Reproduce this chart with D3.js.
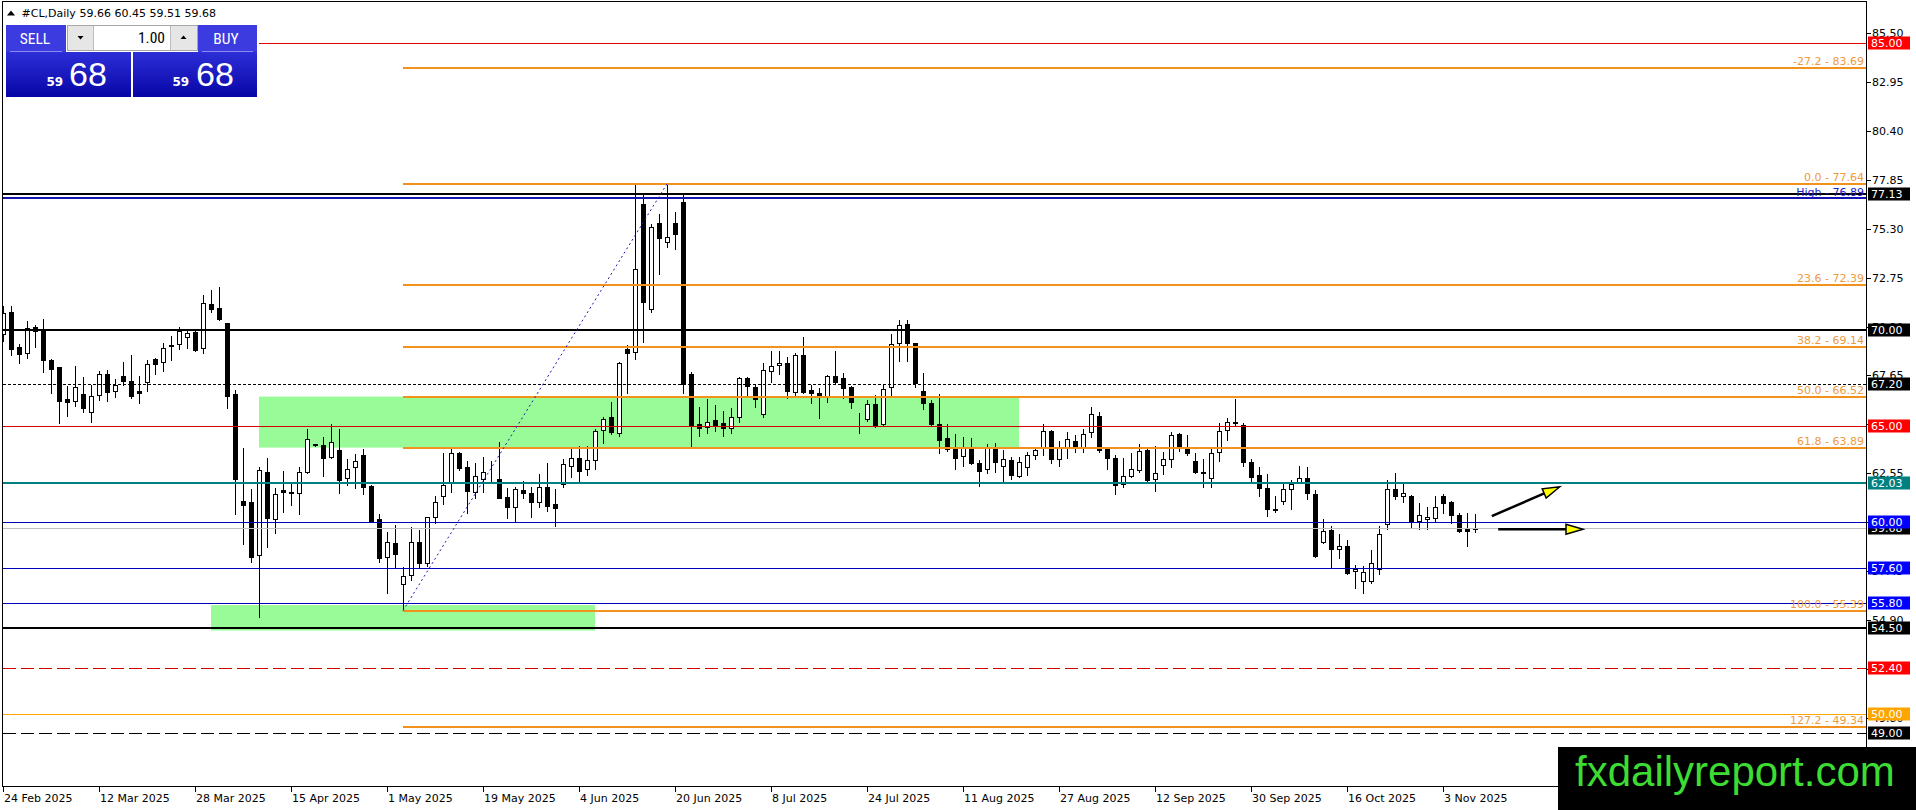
<!DOCTYPE html>
<html><head><meta charset="utf-8">
<script src="https://cdn.jsdelivr.net/npm/d3@7"></script>
<style>html,body{margin:0;padding:0;background:#fff;overflow:hidden}</style>
</head><body>
<svg id="c" width="1916" height="810" xmlns="http://www.w3.org/2000/svg"></svg>
<script>
// ---------------- DATA ----------------
const symbolTitle = "#CL,Daily";
const titleOHLC = "59.66 60.45 59.51 59.68";
const opens = [69.79,70.94,69.12,68.80,70.16,70.06,68.47,68.07,66.41,66.30,
66.67,65.73,66.61,67.71,66.82,67.61,67.36,66.84,67.29,68.51,
68.34,69.22,69.27,69.67,69.90,69.10,71.38,71.15,70.37,66.68,
61.11,61.04,58.31,62.62,60.15,61.68,61.59,61.50,62.60,64.06,
64.02,63.42,63.76,62.29,62.86,63.50,61.89,60.17,58.17,58.91,
56.76,57.23,58.95,57.89,60.25,61.37,62.03,63.59,62.86,61.56,
62.23,62.62,62.23,61.30,60.77,61.68,61.50,61.03,61.82,60.93,
61.97,62.95,63.33,62.76,63.24,64.79,65.47,64.63,69.03,68.89,
76.57,71.10,75.58,74.59,75.58,76.71,67.71,65.10,64.98,65.33,
65.16,64.89,65.50,67.50,67.07,65.62,67.90,68.19,68.28,66.81,
68.72,66.89,66.72,66.55,67.62,67.50,67.03,65.45,65.36,66.14,
65.12,67.03,69.33,70.32,69.33,66.84,66.20,65.10,64.37,63.80,
63.45,63.94,63.07,62.76,63.85,62.95,63.24,62.43,62.86,63.50,
63.90,64.76,63.28,63.90,64.25,63.94,64.69,65.55,63.80,63.33,
61.99,62.41,62.72,63.76,62.23,62.98,63.29,64.58,63.94,63.21,
62.62,62.29,63.64,64.81,65.22,65.07,63.16,62.46,61.77,60.62,
61.12,61.71,62.11,62.29,61.45,58.99,59.59,58.59,58.76,57.47,
56.95,56.95,57.54,59.89,61.71,61.37,61.37,60.08,60.15,60.20,
61.38,61.07,60.38,59.68,59.66];
const highs = [71.25,71.27,69.29,70.49,70.28,70.59,68.53,68.11,67.10,68.16,
67.59,67.15,67.88,67.93,67.45,68.33,68.70,67.62,68.47,68.58,
69.33,69.73,70.19,69.97,69.97,71.85,72.11,72.25,70.40,66.89,
63.85,61.71,62.89,63.33,61.80,62.67,62.03,62.89,64.86,64.10,
64.46,65.12,64.86,63.28,63.54,63.80,61.92,60.41,59.47,59.85,
57.68,59.77,59.59,60.29,61.38,63.59,63.80,63.64,63.21,63.07,
63.42,63.19,64.20,61.77,61.85,62.15,61.85,62.49,63.10,61.73,
63.29,63.80,63.97,63.97,64.86,65.50,66.25,68.34,69.24,77.62,
77.11,75.55,76.05,77.64,76.16,77.11,67.85,66.02,66.42,66.11,
65.81,65.94,67.59,67.59,67.15,68.32,68.93,68.93,68.63,68.80,
69.67,67.15,66.98,67.67,68.93,67.76,67.10,65.71,66.37,66.63,
67.15,69.80,70.55,70.55,69.36,67.76,66.37,66.67,65.10,64.58,
64.42,64.37,63.24,64.08,64.11,63.76,63.42,63.42,63.68,63.94,
65.12,64.81,64.23,64.69,64.55,64.86,65.99,65.73,63.89,63.50,
63.36,63.59,64.08,63.80,63.97,63.64,64.72,64.63,64.55,63.63,
63.28,63.80,65.15,65.42,66.42,65.15,63.30,62.90,62.51,61.37,
61.99,62.20,62.93,62.86,61.68,60.15,59.80,59.37,59.07,57.77,
57.73,58.55,59.80,62.20,62.58,62.06,61.40,60.98,60.77,61.37,
61.47,61.11,60.46,60.46,60.45];
const lows = [69.45,68.70,68.32,68.58,69.15,67.85,66.75,65.19,65.55,66.06,
65.73,65.24,66.35,66.32,66.55,67.17,66.47,66.20,66.86,67.73,
67.90,68.46,69.05,69.08,68.93,68.84,70.96,70.54,65.97,60.43,
58.88,57.94,55.07,58.72,59.42,60.55,60.88,60.41,62.55,63.98,
62.43,63.36,61.50,61.94,61.77,61.45,60.05,57.91,56.33,57.68,
55.39,56.98,57.68,57.72,59.94,60.95,61.59,62.72,60.46,61.24,
61.59,62.11,61.25,60.24,60.03,61.24,60.25,60.81,60.57,59.82,
61.82,62.37,62.16,62.46,62.78,64.15,64.58,64.51,66.72,68.49,
69.41,70.98,72.92,74.37,74.23,66.72,63.97,64.51,64.63,64.77,
64.51,64.63,65.21,66.55,66.02,65.50,67.33,67.73,66.46,66.63,
66.75,66.20,65.42,66.25,67.24,66.46,65.97,64.67,65.29,64.98,
65.01,66.58,68.42,68.42,67.07,65.90,65.02,63.63,63.71,62.76,
62.95,63.03,61.90,62.55,62.63,62.17,62.24,62.34,62.46,63.29,
63.50,63.10,62.95,63.33,63.68,63.64,64.46,63.68,62.76,61.47,
61.85,62.34,62.63,62.15,61.64,62.50,62.86,63.71,63.50,62.58,
61.85,61.82,63.19,64.29,65.05,62.95,62.08,61.38,60.34,60.51,
60.95,60.69,62.03,61.21,58.17,58.90,57.63,58.15,57.28,56.55,
56.33,56.85,57.28,59.63,61.19,61.07,59.72,59.65,59.63,60.03,
60.50,59.94,59.51,58.78,59.51];
const closes = [70.92,69.05,68.79,70.11,69.97,68.44,68.00,66.34,66.25,67.03,
65.94,66.60,67.71,66.77,67.16,67.38,66.56,66.75,68.23,68.27,
69.10,69.17,69.97,69.85,68.98,71.41,71.13,70.61,66.60,62.27,
60.91,58.17,62.70,60.20,61.45,61.56,61.52,62.60,64.35,64.02,
63.33,64.16,62.20,62.76,63.19,61.85,60.08,58.15,58.95,58.36,
57.18,58.95,57.89,60.25,61.03,61.94,63.59,62.84,61.64,62.42,
62.63,62.60,61.28,60.77,61.75,61.50,61.03,61.82,60.86,60.76,
63.02,63.33,62.69,63.24,64.75,65.36,64.72,68.28,68.84,73.18,
71.46,75.37,74.83,74.89,75.01,67.19,65.01,64.89,65.21,65.03,
64.93,65.50,67.50,67.12,66.41,67.94,68.16,68.28,66.86,68.72,
66.81,66.72,66.60,67.62,67.29,66.98,66.28,65.42,66.14,65.01,
66.93,69.27,70.28,69.36,67.24,66.20,65.10,64.29,63.80,63.33,
63.94,63.07,62.67,63.85,63.12,63.28,62.46,63.12,63.50,63.76,
64.76,63.28,63.85,64.34,63.99,64.58,65.62,63.76,63.33,61.94,
62.43,62.76,63.73,62.20,62.55,63.28,64.55,63.94,63.59,62.63,
62.58,63.62,64.77,65.24,65.15,63.16,62.37,61.77,60.67,60.67,
61.71,61.97,62.29,61.51,58.24,59.54,58.59,58.76,57.37,57.58,
57.39,57.86,59.37,61.71,61.38,61.51,60.08,60.36,60.25,60.81,
60.98,60.38,59.56,59.54,59.68];

const dateLabels = ["24 Feb 2025","12 Mar 2025","28 Mar 2025","15 Apr 2025","1 May 2025","19 May 2025",
"4 Jun 2025","20 Jun 2025","8 Jul 2025","24 Jul 2025","11 Aug 2025","27 Aug 2025","12 Sep 2025",
"30 Sep 2025","16 Oct 2025","3 Nov 2025"];
const dateTickBars = [0,12,24,36,48,60,72,84,96,108,120,132,144,156,168,180];
const priceTicks = [85.50,82.95,80.40,77.85,75.30,72.75,70.20,67.65,65.10,62.55,60.00,57.45,54.90,52.35,49.80];

const levelPrices = [85.00,77.13,76.89,70.00,67.20,65.00,62.03,59.68,60.00,57.60,55.80,54.50,52.40,50.00,49.00];
const levelNames  = ["85.00","77.13","High - 76.89","70.00","67.20","65.00","62.03","59.68","60.00","57.60","55.80","54.50","52.40","50.00","49.00"];

const fibRatios = [-27.2,0.0,23.6,38.2,50.0,61.8,100.0,127.2];
const fibPrices = [83.69,77.64,72.39,69.14,66.52,63.89,55.39,49.34];
const fibLowBar = 50, fibHighBar = 83;

const zoneBarsFrom = [32,26], zoneBarsTo = [127,74];
const zoneTop = [66.55,55.68], zoneBottom = [63.89,54.35];

const arrowFromBar = [186.1,186.9], arrowFromPrice = [60.32,59.63];
const arrowToBar = [194.6,197.5], arrowToPrice = [61.85,59.63];

const bidQuote = {big:"68", small:"59", lot:"1.00"};

// ---------------- DRAW ----------------
const svg = d3.select('#c');
const AX = 1866.5, BY = 786.5;
const x = d3.scaleLinear().domain([0,184]).range([3,1475]);
const y = d3.scaleLinear().domain([85,49]).range([42.7,733.2]);
const cx = v => Math.round(x(v)) + 0.5;
const cyOdd = v => Math.round(y(v)) + 0.5;
const cyEven = v => Math.round(y(v));
const F = "'DejaVu Sans', Verdana, sans-serif";

svg.append('rect').attr('width',1916).attr('height',810).attr('fill','#fff');
svg.append('defs').append('clipPath').attr('id','plot')
  .append('rect').attr('x',3).attr('y',3).attr('width',AX-3).attr('height',BY-3);
const plot = svg.append('g').attr('clip-path','url(#plot)');

// zones
plot.selectAll('rect.zone').data(zoneTop).join('rect').attr('class','zone')
  .attr('x',(d,i)=>x(zoneBarsFrom[i])).attr('width',(d,i)=>x(zoneBarsTo[i])-x(zoneBarsFrom[i]))
  .attr('y',(d,i)=>y(zoneTop[i])).attr('height',(d,i)=>y(zoneBottom[i])-y(zoneTop[i]))
  .attr('fill','#98FB98');

// candles
const cg = plot.append('g').attr('shape-rendering','crispEdges');
const idx = d3.range(opens.length);
cg.selectAll('line.w').data(idx).join('line')
  .attr('x1',i=>cx(i)).attr('x2',i=>cx(i))
  .attr('y1',i=>Math.round(y(highs[i]))).attr('y2',i=>Math.round(y(lows[i]))+1)
  .attr('stroke','#000').attr('stroke-width',1);
cg.selectAll('rect.b').data(idx).join('rect')
  .attr('x',i=>cx(i)-2).attr('width',4)
  .attr('y',i=>Math.round(y(Math.max(opens[i],closes[i])))+0.5)
  .attr('height',i=>Math.max(0,Math.round(y(Math.min(opens[i],closes[i])))-Math.round(y(Math.max(opens[i],closes[i])))))
  .attr('fill',i=>closes[i]>=opens[i]?'#fff':'#000')
  .attr('stroke','#000').attr('stroke-width',1);

// horizontal levels
const levelStyle = {
 "85.00":{c:"#e00000",w:1,tag:"#ff0000"},
 "77.13":{c:"#000",w:2,tag:"#000"},
 "High - 76.89":{c:"#1414b4",w:2,tag:null},
 "70.00":{c:"#000",w:2,tag:"#000"},
 "67.20":{c:"#000",w:1,dash:"3,2",tag:"#000"},
 "65.00":{c:"#d40000",w:1,tag:"#ff0000"},
 "62.03":{c:"#008080",w:2,tag:"#008080"},
 "59.68":{c:"#c0c0c0",w:1,tag:"#000"},
 "60.00":{c:"#0000b8",w:1,tag:"#0000ff"},
 "57.60":{c:"#0000b8",w:1,tag:"#0000ff"},
 "55.80":{c:"#0000b8",w:1,tag:"#0000ff"},
 "54.50":{c:"#000",w:2,tag:"#000"},
 "52.40":{c:"#d40000",w:1,dash:"13,5",tag:"#ff0000"},
 "50.00":{c:"#ffa500",w:1,tag:"#ffa500"},
 "49.00":{c:"#000",w:1,dash:"13,5",tag:"#000"}
};
const lg = svg.append('g').attr('shape-rendering','crispEdges');
levelPrices.forEach((p,i)=>{
  const s = levelStyle[levelNames[i]];
  const yy = s.w===2 ? cyEven(p) : cyOdd(p);
  lg.append('line').attr('x1',3).attr('x2',AX).attr('y1',yy).attr('y2',yy)
    .attr('stroke',s.c).attr('stroke-width',s.w).attr('stroke-dasharray',s.dash||null);
});
// High label text
svg.append('text').attr('x',1864).attr('y',y(76.89)-2.5).attr('text-anchor','end')
  .attr('font-family',F).attr('font-size',11).attr('fill','#1c1cc8').text(levelNames[2]);

// fib lines
const fibColor = "#F2921E";
fibPrices.forEach((p,i)=>{
  lg.append('line').attr('x1',x(fibLowBar)).attr('x2',AX).attr('y1',cyEven(p)).attr('y2',cyEven(p))
    .attr('stroke',fibColor).attr('stroke-width',2);
  svg.append('text').attr('x',1864).attr('y',y(p)-3).attr('text-anchor','end')
    .attr('font-family',F).attr('font-size',11).attr('fill','#EE9A3E')
    .text(fibRatios[i].toFixed(1)+" - "+p.toFixed(2));
});
// fib trend line (dotted)
svg.append('line').attr('x1',x(fibLowBar)).attr('y1',y(fibPrices[6]))
  .attr('x2',x(fibHighBar)).attr('y2',y(fibPrices[1]))
  .attr('stroke','#1c1cb0').attr('stroke-width',1).attr('stroke-dasharray','2,3');

// arrows
arrowFromBar.forEach((b,i)=>{
  const x1=x(b), y1=y(arrowFromPrice[i]), x2=x(arrowToBar[i]), y2=y(arrowToPrice[i]);
  const dx=x2-x1, dy=y2-y1, L=Math.hypot(dx,dy), ux=dx/L, uy=dy/L;
  const hl=17, hw=5;
  const bx=x2-ux*hl, by=y2-uy*hl;
  svg.append('line').attr('x1',x1).attr('y1',y1).attr('x2',bx).attr('y2',by)
    .attr('stroke','#000').attr('stroke-width',2.5);
  svg.append('polygon').attr('points',[[x2,y2],[bx-uy*hw,by+ux*hw],[bx+uy*hw,by-ux*hw]].map(p=>p.join(',')).join(' '))
    .attr('fill','#ffff00').attr('stroke','#000').attr('stroke-width',1.5).attr('stroke-linejoin','miter');
});

// frame
svg.append('rect').attr('x',2.5).attr('y',1.5).attr('width',AX-2.5).attr('height',BY-1.5)
  .attr('fill','none').attr('stroke','#000').attr('stroke-width',1).attr('shape-rendering','crispEdges');

// price axis
const ag = svg.append('g').attr('font-family',F).attr('font-size',11);
const tagYs = levelPrices.filter((p,i)=>levelStyle[levelNames[i]].tag).map(p=>Math.round(y(p)));
priceTicks.forEach(p=>{
  ag.append('line').attr('x1',AX).attr('x2',AX+4).attr('y1',cyOdd(p)).attr('y2',cyOdd(p))
    .attr('stroke','#000').attr('shape-rendering','crispEdges');
  // skip a tick label when a level tag fully covers it (as in the reference)
  const ty = y(p);
  const covered = tagYs.some(t => ty-4 >= t-6.5 && ty+4 <= t+7);
  if(!covered) ag.append('text').attr('x',1872).attr('y',ty+4).attr('fill','#000').text(p.toFixed(2));
});
// tags
levelPrices.forEach((p,i)=>{
  const s = levelStyle[levelNames[i]];
  if(!s.tag) return;
  const yy = Math.round(y(p));
  ag.append('rect').attr('x',1868).attr('y',yy-6.5).attr('width',42).attr('height',13).attr('fill',s.tag);
  ag.append('text').attr('x',1871).attr('y',yy+4).attr('fill','#fff').text(p.toFixed(2));
});

// date axis
const dg = svg.append('g').attr('font-family',F).attr('font-size',11);
dateTickBars.forEach((b,i)=>{
  dg.append('line').attr('x1',cx(b)).attr('x2',cx(b)).attr('y1',BY).attr('y2',BY+5)
    .attr('stroke','#000').attr('shape-rendering','crispEdges');
  dg.append('text').attr('x',Math.round(x(b))+1).attr('y',802).attr('fill','#000').text(dateLabels[i]);
});

// header
svg.append('polygon').attr('points','7,15.5 15,15.5 11,10.5').attr('fill','#000');
svg.append('text').attr('x',21.5).attr('y',17).attr('font-family',F).attr('font-size',11).attr('fill','#000').text(symbolTitle);
svg.append('text').attr('x',79.5).attr('y',17).attr('font-family',F).attr('font-size',11).attr('fill','#000').text(titleOHLC);

// one-click trading panel
const defs = svg.select('defs');
const gr = defs.append('linearGradient').attr('id','pg').attr('x1',0).attr('y1',0).attr('x2',0).attr('y2',1);
gr.append('stop').attr('offset','0%').attr('stop-color','#2e2ed8');
gr.append('stop').attr('offset','100%').attr('stop-color','#0606a6');
const pn = svg.append('g');
pn.append('rect').attr('x',3).attr('y',23).attr('width',256).attr('height',76).attr('fill','#fff');
const NF = "'Liberation Sans Narrow','Roboto Condensed',Roboto,'Liberation Sans',sans-serif";
// sell top
pn.append('rect').attr('x',6).attr('y',25).attr('width',60).attr('height',27).attr('fill','#3b3be0');
pn.append('text').attr('x',35).attr('y',44).attr('text-anchor','middle').attr('font-family',NF).attr('font-size',15.5).attr('fill','#fff').text('SELL');
pn.append('line').attr('x1',10).attr('x2',62).attr('y1',51.5).attr('y2',51.5).attr('stroke','#8a8af0');
// buy top
pn.append('rect').attr('x',198).attr('y',25).attr('width',59).attr('height',27).attr('fill','#3b3be0');
pn.append('text').attr('x',226).attr('y',44).attr('text-anchor','middle').attr('font-family',NF).attr('font-size',15.5).attr('fill','#fff').text('BUY');
pn.append('line').attr('x1',202).attr('x2',253).attr('y1',51.5).attr('y2',51.5).attr('stroke','#8a8af0');
// lot control
pn.append('rect').attr('x',67.5).attr('y',25.5).attr('width',130).attr('height',25).attr('fill','#fff').attr('stroke','#a8a8a8');
pn.append('rect').attr('x',68).attr('y',26).attr('width',25).attr('height',24).attr('fill','#e6e6e6');
pn.append('rect').attr('x',171).attr('y',26).attr('width',26).attr('height',24).attr('fill','#e6e6e6');
pn.append('line').attr('x1',93.5).attr('x2',93.5).attr('y1',26).attr('y2',50).attr('stroke','#bdbdbd');
pn.append('line').attr('x1',170.5).attr('x2',170.5).attr('y1',26).attr('y2',50).attr('stroke','#bdbdbd');
pn.append('polygon').attr('points','77.5,36 83.5,36 80.5,39.5').attr('fill','#000');
pn.append('polygon').attr('points','180.5,39 186.5,39 183.5,35.5').attr('fill','#000');
pn.append('text').attr('x',165).attr('y',43).attr('text-anchor','end').attr('font-family',NF).attr('font-size',15.5).attr('fill','#000').text(bidQuote.lot);
// price boxes
[[6,125],[133,124]].forEach(([bx,bw])=>{
  pn.append('rect').attr('x',bx).attr('y',52).attr('width',bw).attr('height',45).attr('fill','url(#pg)');
});
[[46.5,69],[172.5,196]].forEach(([sx,bxx])=>{
  pn.append('text').attr('x',sx).attr('y',86).attr('font-family',F).attr('font-weight','bold').attr('font-size',12).attr('fill','#fff').text(bidQuote.small);
  pn.append('text').attr('x',bxx).attr('y',86).attr('font-family',"'Liberation Sans',Arial,sans-serif").attr('font-size',34).attr('fill','#fff').text(bidQuote.big);
});

// watermark logo
svg.append('rect').attr('x',1558).attr('y',747).attr('width',358).attr('height',63).attr('fill','#000');
svg.append('text').attr('x',1575).attr('y',786).attr('font-family',"'Liberation Sans',Arial,sans-serif")
  .attr('font-size',42).attr('fill','#3cdc32').text('fxdailyreport.com');
</script>
</body></html>
